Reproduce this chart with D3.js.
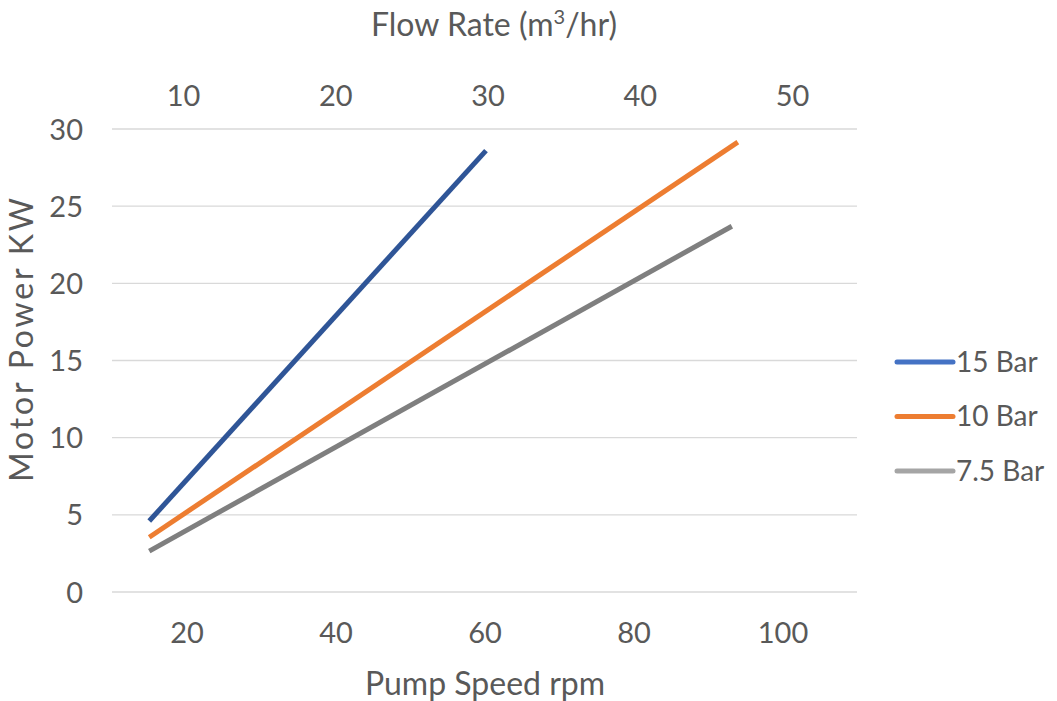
<!DOCTYPE html>
<html>
<head>
<meta charset="utf-8">
<script src="https://cdn.jsdelivr.net/npm/d3@7"></script>
<style>
  body { margin: 0; background: #fff; }
  text { font-family: Lato, "Open Sans", sans-serif; fill: #595959; }
</style>
</head>
<body>
<div id="chart"></div>
<script>
// series names and colours
const seriesNames = ["15 Bar", "10 Bar", "7.5 Bar"];
const lineColors = ["#2F5597", "#ED7D31", "#7F7F7F"];
const legendColors = ["#4472C4", "#ED7D31", "#A5A5A5"];

// pump speed (rpm) and motor power (KW) per series
const speed15 = [15, 60.2];
const power15 = [4.6, 28.6];
const speed10 = [15, 94];
const power10 = [3.55, 29.15];
const speed75 = [15, 93.2];
const power75 = [2.65, 23.7];

// tick labels
const bottomTicks = [20, 40, 60, 80, 100];
const topTicks = [10, 20, 30, 40, 50];
const yTicks = [0, 5, 10, 15, 20, 25, 30];

const W = 1057, H = 701;
const plot = {left: 112, right: 857, top: 129, bottom: 592};

const svg = d3.select("#chart").append("svg")
    .attr("width", W)
    .attr("height", H);

svg.append("rect").attr("width", W).attr("height", H).attr("fill", "#fff");

const x = d3.scaleLinear().domain([10, 110]).range([plot.left, plot.right]);
const xTop = d3.scaleLinear().domain([10, 50]).range([183, 792]);
const y = d3.scaleLinear().domain([0, 30]).range([plot.bottom, plot.top]);

// gridlines
svg.append("g")
    .selectAll("line")
    .data(yTicks)
    .join("line")
    .attr("x1", plot.left).attr("x2", plot.right)
    .attr("y1", d => y(d)).attr("y2", d => y(d))
    .attr("stroke", "#D9D9D9")
    .attr("stroke-width", 1.3);

// y axis labels
const yAxis = svg.append("g")
    .attr("transform", `translate(${plot.left - 29},0)`)
    .call(d3.axisLeft(y).tickValues(yTicks).tickSize(0).tickPadding(0));
yAxis.select(".domain").remove();
yAxis.selectAll("text").attr("font-size", 29).attr("dy", "0.35em").style("font-family", null);

// bottom axis labels
const xAxis = svg.append("g")
    .attr("transform", `translate(0,${plot.bottom + 30})`)
    .call(d3.axisBottom(x).tickValues(bottomTicks).tickSize(0).tickPadding(0));
xAxis.select(".domain").remove();
xAxis.selectAll("text").attr("font-size", 29).attr("dy", "0.71em").style("font-family", null);

// top axis labels
const xAxisTop = svg.append("g")
    .attr("transform", `translate(0,${106})`)
    .call(d3.axisTop(xTop).tickValues(topTicks).tickSize(0).tickPadding(0));
xAxisTop.select(".domain").remove();
xAxisTop.selectAll("text").attr("font-size", 29).attr("dy", "0em").style("font-family", null);

// axis titles
svg.append("text")
    .attr("x", 485).attr("y", 695)
    .attr("text-anchor", "middle")
    .attr("font-size", 32)
    .text("Pump Speed rpm");

const topTitle = svg.append("text")
    .attr("x", 494).attr("y", 36)
    .attr("text-anchor", "middle")
    .attr("font-size", 32);
topTitle.append("tspan").text("Flow Rate (m");
topTitle.append("tspan").attr("font-size", 20).attr("dy", -12).text("3");
topTitle.append("tspan").attr("dy", 12).text("/hr)");

svg.append("text")
    .attr("transform", "translate(33,340) rotate(-90)")
    .attr("text-anchor", "middle")
    .attr("font-size", 32)
    .attr("textLength", 284)
    .attr("lengthAdjust", "spacing")
    .text("Motor Power KW");

// lines
const series = [
    {name: seriesNames[0], xs: speed15, ys: power15},
    {name: seriesNames[1], xs: speed10, ys: power10},
    {name: seriesNames[2], xs: speed75, ys: power75}
];

const line = d3.line().x(d => x(d[0])).y(d => y(d[1]));

svg.append("g")
    .selectAll("path")
    .data(series)
    .join("path")
    .attr("d", s => line(d3.zip(s.xs, s.ys)))
    .attr("fill", "none")
    .attr("stroke", (s, i) => lineColors[i])
    .attr("stroke-width", 5);

// legend
const legend = svg.append("g")
    .selectAll("g")
    .data(seriesNames)
    .join("g")
    .attr("transform", (d, i) => `translate(897,${362 + i * 54.5})`);

legend.append("line")
    .attr("x1", 0).attr("x2", 56)
    .attr("stroke", (d, i) => legendColors[i])
    .attr("stroke-width", 5)
    .attr("stroke-linecap", "round");

legend.append("text")
    .attr("x", 59).attr("dy", "0.35em")
    .attr("font-size", 28)
    .text(d => d);
</script>
</body>
</html>
